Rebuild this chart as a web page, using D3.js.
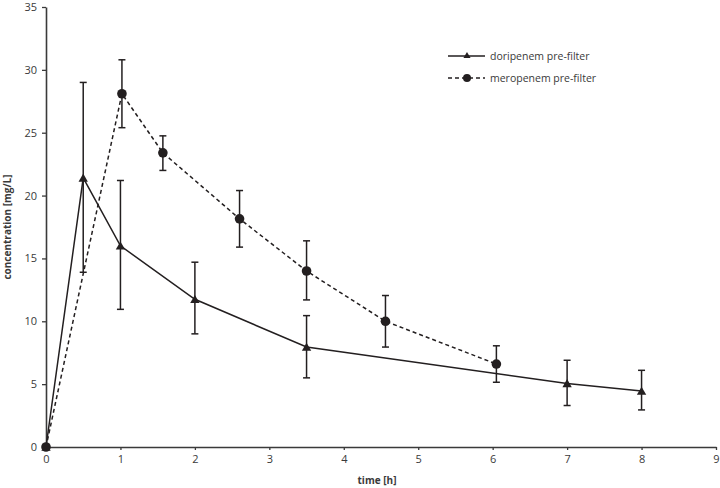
<!DOCTYPE html>
<html>
<head>
<meta charset="utf-8">
<script src="https://cdn.jsdelivr.net/npm/d3@7"></script>
<style>
  body { margin: 0; background: #fff; }
  svg text { font-family: "Open Sans", "Noto Sans", sans-serif; fill: #3a3a3a; }
</style>
</head>
<body>
<script>
// data
const doriTime = [0, 0.5, 1, 2, 3.5, 7, 8];
const doriConc = [0, 21.4, 16.0, 11.75, 7.95, 5.05, 4.45];
const doriLow  = [0, 13.9, 10.95, 9.0, 5.5, 3.3, 2.95];
const doriHigh = [0, 29.0, 21.2, 14.7, 10.45, 6.9, 6.1];

const meroTime = [0, 1.02, 1.57, 2.6, 3.5, 4.56, 6.05];
const meroConc = [0, 28.1, 23.4, 18.15, 14.0, 10.0, 6.6];
const meroLow  = [0, 25.4, 22.0, 15.9, 11.7, 7.95, 5.15];
const meroHigh = [0, 30.8, 24.75, 20.4, 16.4, 12.05, 8.05];

const xTicks = [0, 1, 2, 3, 4, 5, 6, 7, 8, 9];
const yTicks = [0, 5, 10, 15, 20, 25, 30, 35];

const series = [
  {name: 'doripenem pre-filter', t: doriTime, c: doriConc, lo: doriLow, hi: doriHigh, dash: null, mark: 'tri'},
  {name: 'meropenem pre-filter', t: meroTime, c: meroConc, lo: meroLow, hi: meroHigh, dash: '4,3', mark: 'dot'}
];

const W = 720, H = 488;
const margin = {top: 7, right: 4, bottom: 41, left: 46};
const innerW = W - margin.left - margin.right;
const innerH = H - margin.top - margin.bottom;
const ink = '#231f20';

const svg = d3.select('body').append('svg').attr('width', W).attr('height', H);
const g = svg.append('g').attr('transform', `translate(${margin.left},${margin.top})`);

const x = d3.scaleLinear().domain([0, 9]).range([0, innerW]);
const y = d3.scaleLinear().domain([0, 35]).range([innerH, 0]);

// axes
const xAxisG = g.append('g').attr('transform', `translate(0,${innerH})`)
  .call(d3.axisBottom(x).tickValues(xTicks).tickSize(3).tickPadding(5).tickSizeOuter(0));
const yAxisG = g.append('g')
  .call(d3.axisLeft(y).tickValues(yTicks).tickSize(4).tickPadding(5).tickSizeOuter(0));
[xAxisG, yAxisG].forEach(a => {
  a.select('.domain').attr('stroke', '#3a3a3a').attr('stroke-width', 1.6);
  a.selectAll('.tick line').attr('stroke', '#3a3a3a').attr('stroke-width', 1.3);
  a.selectAll('.tick text').attr('font-size', '11px').style('fill', '#3a3a3a');
});

// axis titles
svg.append('text').text('time [h]')
  .attr('x', margin.left + innerW / 2 - 4).attr('y', 484)
  .attr('text-anchor', 'middle').attr('font-size', '10px').attr('font-weight', 'bold');
svg.append('text').text('concentration [mg/L]')
  .attr('transform', `translate(11,${margin.top + innerH / 2}) rotate(-90)`)
  .attr('text-anchor', 'middle').attr('font-size', '10px').attr('font-weight', 'bold');

const line = d3.line().x(d => x(d.t)).y(d => y(d.c));
const tri = d3.symbol().type(d3.symbolTriangle).size(38);

series.forEach(s => {
  const pts = s.t.map((t, i) => ({t: t, c: s.c[i], lo: s.lo[i], hi: s.hi[i]}));
  const sg = g.append('g');

  sg.append('path').datum(pts).attr('d', line)
    .attr('fill', 'none').attr('stroke', ink).attr('stroke-width', 1.5)
    .attr('stroke-dasharray', s.dash);

  // error bars
  const eb = sg.selectAll('.eb').data(pts.filter(d => d.hi > d.lo)).enter().append('g');
  eb.append('line').attr('x1', d => x(d.t)).attr('x2', d => x(d.t))
    .attr('y1', d => y(d.lo)).attr('y2', d => y(d.hi))
    .attr('stroke', ink).attr('stroke-width', 1.5);
  ['lo', 'hi'].forEach(k => {
    eb.append('line').attr('x1', d => x(d.t) - 3.5).attr('x2', d => x(d.t) + 3.5)
      .attr('y1', d => y(d[k])).attr('y2', d => y(d[k]))
      .attr('stroke', ink).attr('stroke-width', 1.5);
  });

  // markers
  if (s.mark === 'dot') {
    sg.selectAll('.m').data(pts).enter().append('circle')
      .attr('cx', d => x(d.t)).attr('cy', d => y(d.c)).attr('r', 4.8).attr('fill', ink);
  } else {
    sg.selectAll('.m').data(pts).enter().append('path').attr('d', tri)
      .attr('transform', d => `translate(${x(d.t)},${y(d.c) + 1})`).attr('fill', ink);
  }
});

// legend
const legend = svg.append('g').attr('transform', 'translate(448,56)');
series.forEach((s, i) => {
  const lg = legend.append('g').attr('transform', `translate(0,${i * 22})`);
  lg.append('line').attr('x1', 0).attr('x2', 37).attr('y1', 0).attr('y2', 0)
    .attr('stroke', ink).attr('stroke-width', 1.5).attr('stroke-dasharray', s.dash);
  if (s.mark === 'dot') lg.append('circle').attr('cx', 19).attr('cy', 0).attr('r', 4).attr('fill', ink);
  else lg.append('path').attr('d', d3.symbol().type(d3.symbolTriangle).size(22)).attr('transform', 'translate(19,0)').attr('fill', ink);
  lg.append('text').text(s.name).attr('x', 42).attr('y', 4).attr('font-size', '10.5px');
});
</script>
</body>
</html>
